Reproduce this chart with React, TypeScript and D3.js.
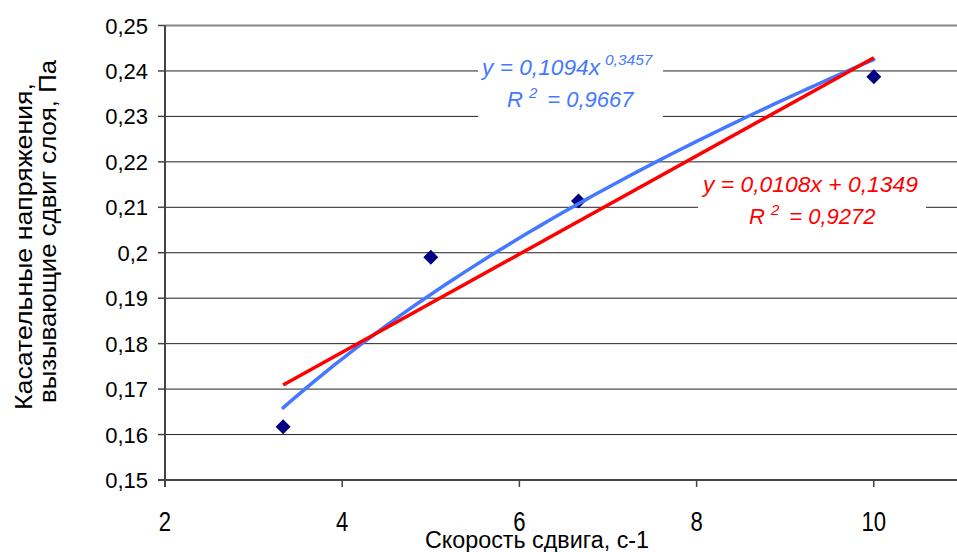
import { useEffect, useRef } from 'react';
import * as d3 from 'd3';

// measured points: shear rate (1/s) vs shear stress (Pa)
const shearRate = [3.333, 5, 6.667, 10];
const shearStress = [0.1617, 0.199, 0.2114, 0.2387];

const xTicks = [2, 4, 6, 8, 10];
const yTicks = [0.15, 0.16, 0.17, 0.18, 0.19, 0.2, 0.21, 0.22, 0.23, 0.24, 0.25];

// trendline coefficients as printed on the chart
const powerA = 0.1094;
const powerB = 0.3457;
const powerR2 = 0.9667;
const linearK = 0.0108;
const linearB = 0.1349;
const linearR2 = 0.9272;

const FONT = '"Liberation Sans", Arial, sans-serif';
const comma = (v: number) => String(v).replace('.', ',');

const App = () => {
    const svgRef = useRef<SVGSVGElement>(null);

    useEffect(() => {
        const svg = d3.select(svgRef.current);
        const width = 957;
        const height = 552;
        svg.selectAll('*').remove();

        const x = d3.scaleLinear().domain([2, 11]).range([165, 962.4]);
        const y = d3.scaleLinear().domain([0.15, 0.25]).range([480, 25.5]);

        svg.append('rect').attr('width', width).attr('height', height).attr('fill', '#fff');

        // horizontal gridlines
        svg.append('g')
            .selectAll('line')
            .data(yTicks.slice(1))
            .join('line')
            .attr('x1', x(2))
            .attr('x2', width)
            .attr('y1', d => y(d))
            .attr('y2', d => y(d))
            .attr('stroke', d => (d === 0.25 ? '#888' : '#222'))
            .attr('stroke-width', d => (d === 0.25 ? 2 : 1));

        // markers
        svg.append('g')
            .selectAll('path')
            .data(shearRate.map((r, i) => [r, shearStress[i]]))
            .join('path')
            .attr('transform', d => `translate(${x(d[0])},${y(d[1])})`)
            .attr('d', 'M0,-7.5L7.5,0L0,7.5L-7.5,0Z')
            .attr('fill', '#000080');

        const xmin = d3.min(shearRate) as number;
        const xmax = d3.max(shearRate) as number;
        const samples = d3.range(0, 81).map(i => xmin + ((xmax - xmin) * i) / 80);

        const line = d3.line<number>()
            .x(d => x(d))
            .curve(d3.curveMonotoneX);

        // power trendline
        svg.append('path')
            .attr('d', line.y(d => y(powerA * Math.pow(d, powerB)))(samples))
            .attr('fill', 'none')
            .attr('stroke', '#4479ff')
            .attr('stroke-width', 3.5)
            .attr('stroke-linecap', 'round');

        // linear trendline
        svg.append('path')
            .attr('d', line.y(d => y(linearK * d + linearB))([xmin, xmax]))
            .attr('fill', 'none')
            .attr('stroke', '#ff0000')
            .attr('stroke-width', 3.5);

        // axes
        const axes = svg.append('g').attr('stroke', '#444').attr('stroke-width', 2);
        axes.append('line').attr('x1', x(2)).attr('x2', x(2)).attr('y1', y(0.25)).attr('y2', y(0.15) + 7);
        axes.append('line').attr('x1', x(2) - 7).attr('x2', width).attr('y1', y(0.15)).attr('y2', y(0.15));
        axes.selectAll('.yt')
            .data(yTicks.slice(1))
            .join('line')
            .attr('x1', x(2) - 7).attr('x2', x(2))
            .attr('y1', d => y(d)).attr('y2', d => y(d))
            .attr('stroke-width', 1.5);
        axes.selectAll('.xt')
            .data(xTicks.slice(1))
            .join('line')
            .attr('x1', d => x(d)).attr('x2', d => x(d))
            .attr('y1', y(0.15)).attr('y2', y(0.15) + 7)
            .attr('stroke-width', 1.5);

        // tick labels
        svg.append('g')
            .selectAll('text')
            .data(yTicks)
            .join('text')
            .attr('x', 148)
            .attr('y', d => y(d) + 8)
            .attr('text-anchor', 'end')
            .style('font-family', FONT)
            .style('font-size', '22px')
            .text(d => comma(d));

        svg.append('g')
            .selectAll('text')
            .data(xTicks)
            .join('text')
            .attr('transform', d => `translate(${x(d)},531) scale(0.82,1)`)
            .attr('text-anchor', 'middle')
            .style('font-family', FONT)
            .style('font-size', '27px')
            .text(d => String(d));

        // axis titles
        svg.append('text')
            .attr('x', 425)
            .attr('y', 548)
            .attr('textLength', 224)
            .attr('lengthAdjust', 'spacingAndGlyphs')
            .style('font-family', FONT)
            .style('font-size', '23px')
            .text('Скорость сдвига, с-1');

        const yTitle = svg.append('g')
            .attr('transform', 'rotate(-90)')
            .style('font-family', FONT)
            .style('font-size', '24px');
        yTitle.append('text')
            .attr('x', -410).attr('y', 32)
            .attr('textLength', 327)
            .attr('lengthAdjust', 'spacingAndGlyphs')
            .text('Касательные напряжения,');
        yTitle.append('text')
            .attr('x', -403).attr('y', 56)
            .attr('textLength', 343)
            .attr('lengthAdjust', 'spacingAndGlyphs')
            .text('вызывающие сдвиг слоя, Па');

        // equation labels
        const label = (
            box: [number, number, number, number],
            color: string,
            eq: string,
            eqX: number,
            eqLen: number,
            eqSup: string,
            r2: string,
            r2X: number,
            y1: number,
            y2: number
        ) => {
            svg.append('rect')
                .attr('x', box[0]).attr('y', box[1])
                .attr('width', box[2] - box[0]).attr('height', box[3] - box[1])
                .attr('fill', '#fff');
            const g = svg.append('g')
                .attr('fill', color)
                .style('font-family', FONT)
                .style('font-style', 'italic')
                .style('font-size', '22px');
            g.append('text')
                .attr('x', eqX).attr('y', y1)
                .attr('textLength', eqLen)
                .attr('lengthAdjust', 'spacingAndGlyphs')
                .text(eq);
            if (eqSup) {
                g.append('text')
                    .attr('x', eqX + eqLen + 5).attr('y', y1 - 10)
                    .style('font-size', '15.5px')
                    .text(eqSup);
            }
            const t2 = g.append('text').attr('x', r2X).attr('y', y2).text('R');
            t2.append('tspan').attr('dx', 6).attr('dy', -9).style('font-size', '15px').text('2');
            t2.append('tspan').attr('dx', 10).attr('dy', 9).text('= ' + r2);
        };

        label([478, 50, 663, 124], '#4479ff',
            `y = ${comma(powerA)}x`, 482, 118, comma(powerB), comma(powerR2), 507, 75, 107);
        label([698, 168, 926, 234], '#ff0000',
            `y = ${comma(linearK)}x + ${comma(linearB)}`, 703, 215, '', comma(linearR2), 749, 192, 224);
    }, []);

    return (
        <svg
            ref={svgRef}
            width="957"
            height="552"
            style={{ position: 'absolute', left: 0, top: 0 }}
        ></svg>
    );
};

export default App;
